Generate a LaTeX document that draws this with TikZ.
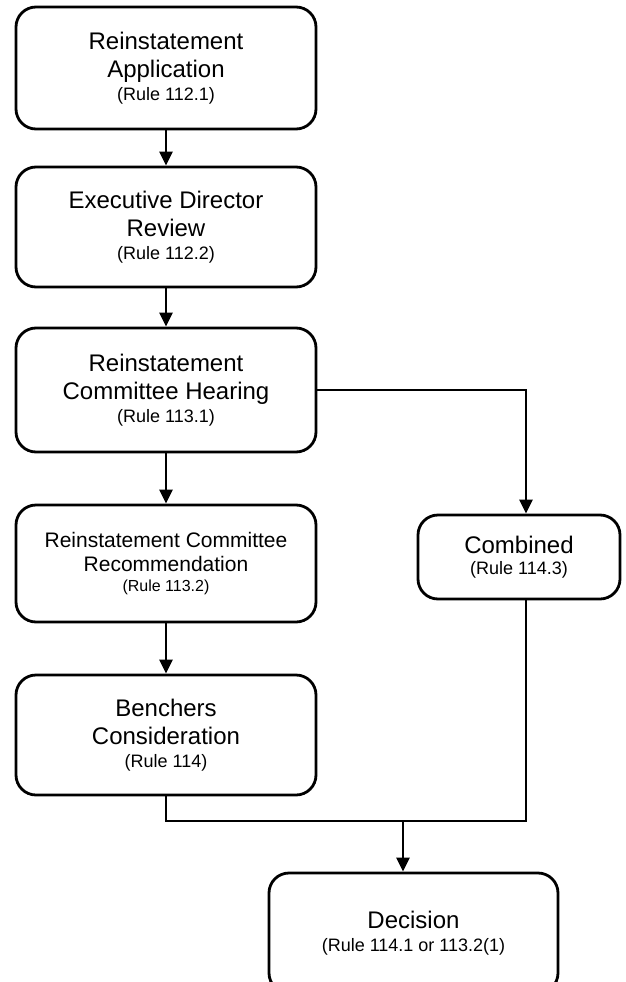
\documentclass[tikz,border=0pt]{standalone}
\usepackage{fontspec}
\setmainfont{Liberation Sans}
\usetikzlibrary{arrows.meta,positioning}

\begin{document}
\begin{tikzpicture}[
    x=1pt, y=-1pt,
    box/.style={draw, line width=2.8pt, rounded corners=20pt, align=center, inner sep=0pt, minimum width=300pt, minimum height=120pt, font=\fontsize{24}{27.6}\selectfont},
    sidebox/.style={box, minimum width=202pt, minimum height=84pt},
    arrow/.style={-{Triangle[width=13pt,length=14pt]}, line width=2.6pt},
    link/.style={line width=2.6pt}
  ]
    \useasboundingbox (0,0) rectangle (626,982);
    \node[box, minimum height=122pt] (application) at (166,68) {Reinstatement\\Application\\[-4.6pt]{\fontsize{18}{18}\selectfont (Rule 112.1)}};
    \node[box] (review) at (166,227) {Executive Director\\Review\\[-4.6pt]{\fontsize{18}{18}\selectfont (Rule 112.2)}};
    \node[box, minimum height=124pt] (hearing) at (166,390) {Reinstatement\\Committee Hearing\\[-4.6pt]{\fontsize{18}{18}\selectfont (Rule 113.1)}};
    \node[box, minimum height=117pt, font=\fontsize{21}{24}\selectfont] (recommendation) at (166,563.5) {Reinstatement Committee\\Recommendation\\[-4pt]{\fontsize{16}{16}\selectfont (Rule 113.2)}};
    \node[box] (benchers) at (166,735) {Benchers\\Consideration\\[-4.6pt]{\fontsize{18}{18}\selectfont (Rule 114)}};
    \node[sidebox] (combined) at (519,557) {Combined\\[-6.6pt]{\fontsize{18}{18}\selectfont (Rule 114.3)}};
    \node[box, minimum width=289pt] (decision) at (413.5,933) {Decision\\[-4.6pt]{\fontsize{18}{18}\selectfont (Rule 114.1 or 113.2(1)}};
    \coordinate (merge) at (403,821);
    \draw[arrow] (application) -- (review);
    \draw[arrow] (review) -- (hearing);
    \draw[arrow] (hearing) -- (recommendation);
    \draw[arrow] (recommendation) -- (benchers);
    \draw[arrow] (hearing.east) -| ([xshift=7pt]combined.north);
    \draw[link] (benchers.south) |- (merge) -| ([xshift=7pt]combined.south);
    \draw[arrow] (merge) -- (merge |- decision.north);
  \end{tikzpicture}
\end{document}
